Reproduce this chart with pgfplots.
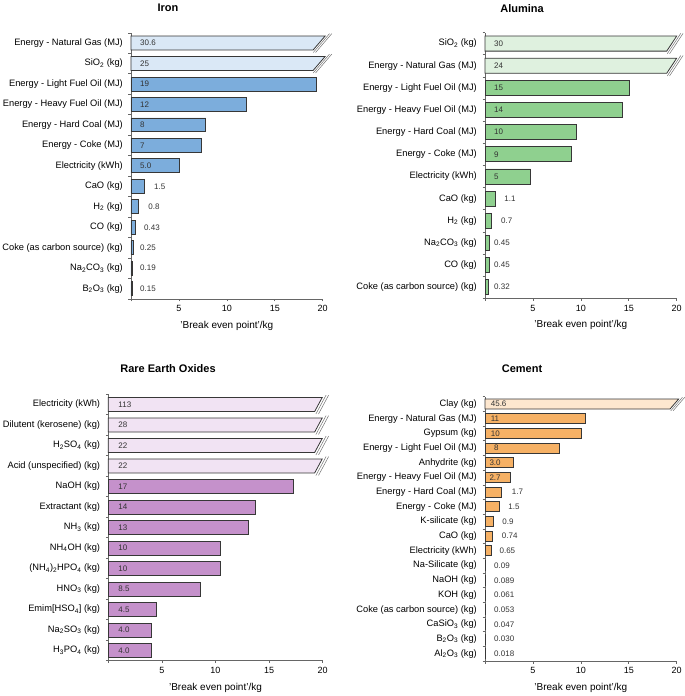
\documentclass[border=0pt]{standalone}
\usepackage{fontspec}
\setmainfont{Liberation Sans}
\usepackage{pgfplots}
\usepackage{pgfplotstable}
\pgfplotsset{compat=1.18}

\definecolor{ironD}{RGB}{124,173,220}
\definecolor{ironL}{RGB}{218,232,246}
\definecolor{aluD}{RGB}{143,208,143}
\definecolor{aluL}{RGB}{223,241,223}
\definecolor{reD}{RGB}{197,145,203}
\definecolor{reL}{RGB}{241,227,243}
\definecolor{cemD}{RGB}{246,177,101}
\definecolor{cemL}{RGB}{253,231,207}
\definecolor{edgec}{RGB}{55,55,55}

\pgfplotsset{
  panel/.style={
    scale only axis, clip=false,
    axis x line=bottom, axis y line=left,
    axis line style={-, draw=black!60, line width=0.6pt},
    xmin=0, xmax=20,
    xtick={5,10,15,20}, minor xtick={0,5,10,15,20},
    major tick length=0pt, minor tick length=2.5pt, tick align=outside,
    tick style={black!60, line width=0.6pt},
    /pgf/number format/assume math mode=true,
    xticklabel style={font=\fontsize{9}{10}\selectfont, anchor=base, yshift=-12.7pt},
    yticklabel style={font=\fontsize{9.3}{11}\selectfont, anchor=east, inner sep=0pt, xshift=-8pt},
    xlabel={'Break even point'/kg},
    xlabel style={font=\fontsize{10}{12}\selectfont, at={(axis description cs:0.5,0)}, anchor=base, yshift=-29.3pt},
  },
  barst/.style={xbar, bar width=0.68, fill=#1, draw=edgec, line width=0.8pt},
  vlab/.style={draw=none, nodes near coords, point meta=explicit symbolic,
    nodes near coords align=horizontal,
    every node near coord/.append style={font=\fontsize{8}{9}\selectfont, text=black!80, inner sep=0pt, anchor=west}},
}

% broken bar: #1 y centre, #2 bottom-right x, #3 top-right x, #4 fill colour
\newcommand{\brk}[4]{%
  \pgfmathsetmacro\bya{#1+0.34}\pgfmathsetmacro\byb{#1-0.34}%
  \pgfmathsetmacro\lya{#1+0.46}\pgfmathsetmacro\lyb{#1-0.46}%
  \pgfmathsetmacro\ddx{(#3-#2)/0.68*0.12}%
  \pgfmathsetmacro\la{#2+0.24-\ddx}\pgfmathsetmacro\lb{#3+0.24+\ddx}%
  \pgfmathsetmacro\lc{#2+0.48-\ddx}\pgfmathsetmacro\ld{#3+0.48+\ddx}%
  \addplot[fill=#4, draw=edgec, line width=0.8pt] coordinates {(0,\byb) (#2,\byb) (#3,\bya) (0,\bya)} -- cycle;
  \addplot[draw=black!55, line width=0.5pt] coordinates {(\la,\lyb) (\lb,\lya)};
  \addplot[draw=black!55, line width=0.5pt] coordinates {(\lc,\lyb) (\ld,\lya)};
}

% ---------------- Iron ----------------
\pgfplotstableread{
y v
10 19.3
9 12
8 7.8
7 7.3
6 5.0
5 1.45
4 0.8
3 0.43
2 0.25
1 0.19
0 0.15
}\irondata
\pgfplotstableread{
y lx lab
12 0.94 30.6
11 0.94 25
10 0.94 19
9 0.94 12
8 0.94 8
7 0.94 7
6 0.94 5.0
5 2.40 1.5
4 1.80 0.8
3 1.36 0.43
2 0.94 0.25
1 0.94 0.19
0 0.94 0.15
}\ironlab
% ---------------- Alumina ----------------
\pgfplotstableread{
y v
9 15.05
8 14.3
7 9.55
6 9.05
5 4.75
4 1.1
3 0.63
2 0.45
1 0.45
0 0.33
}\aludata
\pgfplotstableread{
y lx lab
11 0.94 30
10 0.94 24
9 0.94 15
8 0.94 14
7 0.94 10
6 0.94 9
5 0.94 5
4 2.00 1.1
3 1.67 0.7
2 0.94 0.45
1 0.94 0.45
0 0.94 0.32
}\alulab
% ---------------- Rare Earth Oxides ----------------
\pgfplotstableread{
y v
8 17.3
7 13.7
6 13.06
5 10.48
4 10.48
3 8.58
2 4.51
1 4.05
0 3.98
}\redata
\pgfplotstableread{
y lx lab
12 0.93 113
11 0.93 28
10 0.93 22
9 0.93 22
8 0.93 17
7 0.93 14
6 0.93 13
5 0.93 10
4 0.93 10
3 0.93 8.5
2 0.93 4.5
1 0.93 4.0
0 0.93 4.0
}\relab
% ---------------- Cement ----------------
\pgfplotstableread{
y v
16 10.5
15 10.05
14 7.75
13 2.99
12 2.68
11 1.74
10 1.5
9 0.9
8 0.74
7 0.65
6 0.09
5 0.089
4 0.061
3 0.053
2 0.047
1 0.030
0 0.018
}\cemdata
\pgfplotstableread{
y lx lab
17 0.59 45.6
16 0.59 11
15 0.59 10
14 0.94 8
13 0.45 3.0
12 0.45 2.7
11 2.78 1.7
10 2.43 1.5
9 1.80 0.9
8 1.74 0.74
7 1.50 0.65
6 0.94 0.09
5 0.94 0.089
4 0.94 0.061
3 0.94 0.053
2 0.94 0.047
1 0.94 0.030
0 0.94 0.018
}\cemlab

\begin{document}
\begin{tikzpicture}
\useasboundingbox (0,0) rectangle (685pt,-696pt);

\node[font=\bfseries\fontsize{11}{13}\selectfont, anchor=base] at (168pt,-11.7pt) {Iron};
\node[font=\bfseries\fontsize{11}{13}\selectfont, anchor=base] at (522pt,-12.7pt) {Alumina};
\node[font=\bfseries\fontsize{11}{13}\selectfont, anchor=base] at (168pt,-372.3pt) {Rare Earth Oxides};
\node[font=\bfseries\fontsize{11}{13}\selectfont, anchor=base] at (522pt,-372.3pt) {Cement};

% Iron
\begin{axis}[panel, at={(131pt,-298.9pt)}, anchor=south west, width=191.7pt, height=266.1pt,
  ymin=-0.5, ymax=12.5, ytick={0,...,12}, minor ytick={-0.5,0.5,...,12.5},
  yticklabels={{B\textsubscript{2}O\textsubscript{3} (kg)},{Na\textsubscript{2}CO\textsubscript{3} (kg)},{Coke (as carbon source) (kg)},{CO (kg)},{H\textsubscript{2} (kg)},{CaO (kg)},{Electricity (kWh)},{Energy - Coke (MJ)},{Energy - Hard Coal (MJ)},{Energy - Heavy Fuel Oil (MJ)},{Energy - Light Fuel Oil (MJ)},{SiO\textsubscript{2} (kg)},{Energy - Natural Gas (MJ)}}]
\addplot[barst=ironD] table[x=v, y=y] {\irondata};
\brk{12}{19.0}{20.25}{ironL}
\brk{11}{19.0}{20.25}{ironL}
\addplot[vlab] table[x=lx, y=y, meta=lab] {\ironlab};
\end{axis}

% Alumina
\begin{axis}[panel, at={(485pt,-298.3pt)}, anchor=south west, width=191.7pt, height=265.8pt,
  ymin=-0.5, ymax=11.5, ytick={0,...,11}, minor ytick={-0.5,0.5,...,11.5},
  yticklabels={{Coke (as carbon source) (kg)},{CO (kg)},{Na\textsubscript{2}CO\textsubscript{3} (kg)},{H\textsubscript{2} (kg)},{CaO (kg)},{Electricity (kWh)},{Energy - Coke (MJ)},{Energy - Hard Coal (MJ)},{Energy - Heavy Fuel Oil (MJ)},{Energy - Light Fuel Oil (MJ)},{Energy - Natural Gas (MJ)},{SiO\textsubscript{2} (kg)}}]
\addplot[barst=aluD] table[x=v, y=y] {\aludata};
\brk{11}{18.96}{20.0}{aluL}
\brk{10}{18.96}{20.0}{aluL}
\addplot[vlab] table[x=lx, y=y, meta=lab] {\alulab};
\end{axis}

% Rare Earth Oxides
\begin{axis}[panel, at={(108.3pt,-660.7pt)}, anchor=south west, width=214.4pt, height=266.4pt,
  ymin=-0.5, ymax=12.5, ytick={0,...,12}, minor ytick={-0.5,0.5,...,12.5},
  yticklabels={{H\textsubscript{3}PO\textsubscript{4} (kg)},{Na\textsubscript{2}SO\textsubscript{3} (kg)},{Emim[HSO\textsubscript{4}] (kg)},{HNO\textsubscript{3} (kg)},{(NH\textsubscript{4})\textsubscript{2}HPO\textsubscript{4} (kg)},{NH\textsubscript{4}OH (kg)},{NH\textsubscript{3} (kg)},{Extractant (kg)},{NaOH (kg)},{Acid (unspecified) (kg)},{H\textsubscript{2}SO\textsubscript{4} (kg)},{Dilutent (kerosene) (kg)},{Electricity (kWh)}}]
\addplot[barst=reD] table[x=v, y=y] {\redata};
\brk{12}{19.25}{19.95}{reL}
\brk{11}{19.25}{19.95}{reL}
\brk{10}{19.25}{19.95}{reL}
\brk{9}{19.25}{19.95}{reL}
\addplot[vlab] table[x=lx, y=y, meta=lab] {\relab};
\end{axis}

% Cement
\begin{axis}[panel, at={(485pt,-661pt)}, anchor=south west, width=191.7pt, height=264.3pt,
  ymin=-0.5, ymax=17.5, ytick={0,...,17}, minor ytick={-0.5,0.5,...,17.5},
  yticklabels={{Al\textsubscript{2}O\textsubscript{3} (kg)},{B\textsubscript{2}O\textsubscript{3} (kg)},{CaSiO\textsubscript{3} (kg)},{Coke (as carbon source) (kg)},{KOH (kg)},{NaOH (kg)},{Na-Silicate (kg)},{Electricity (kWh)},{CaO (kg)},{K-silicate (kg)},{Energy - Coke (MJ)},{Energy - Hard Coal (MJ)},{Energy - Heavy Fuel Oil (MJ)},{Anhydrite (kg)},{Energy - Light Fuel Oil (MJ)},{Gypsum (kg)},{Energy - Natural Gas (MJ)},{Clay (kg)}}]
\addplot[barst=cemD] table[x=v, y=y] {\cemdata};
\brk{17}{19.3}{20.2}{cemL}
\addplot[vlab] table[x=lx, y=y, meta=lab] {\cemlab};
\end{axis}
\end{tikzpicture}
\end{document}
